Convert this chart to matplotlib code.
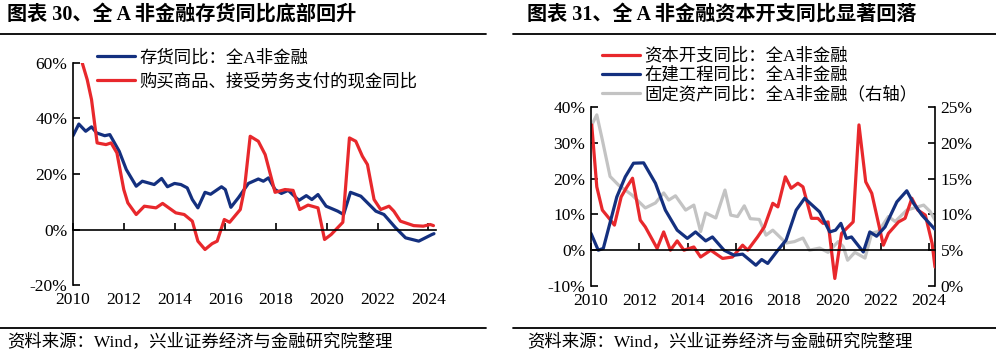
import matplotlib.pyplot as plt
from matplotlib.lines import Line2D

# ---- data ----
inv_x = [2010.0, 2010.23, 2010.5, 2010.73, 2010.93, 2011.25, 2011.45, 2011.82, 2012.1, 2012.49,
         2012.73, 2013.2, 2013.49, 2013.72, 2014.0, 2014.25, 2014.5, 2014.7, 2014.92, 2015.2,
         2015.42, 2015.85, 2016.0, 2016.22, 2016.52, 2016.91, 2017.3, 2017.5, 2017.7, 2017.96,
         2018.21, 2018.48, 2018.9, 2019.19, 2019.41, 2019.65, 2019.97, 2020.43, 2020.66, 2020.93,
         2021.34, 2021.93, 2022.25, 2022.71, 2023.1, 2023.62, 2024.14, 2024.22]
inv_y = [33.8, 38, 35.4, 37, 34.8, 33.8, 34.2, 28.2, 21.6, 15.6,
         17.4, 16.2, 18.4, 15.4, 16.6, 16.2, 15, 10.8, 7.8, 13.4,
         12.7, 15.4, 14.4, 8.0, 11.5, 16.6, 18.2, 17.4, 18.6, 14.4,
         13, 14.1, 10.5, 12.2, 10.8, 12.6, 8.4, 6.6, 5.4, 13.4,
         12, 6.6, 5.4, 0.6, -3.0, -4.2, -1.8, -1.5]

cash_x = [2010.3, 2010.56, 2010.73, 2010.95, 2011.3, 2011.5, 2011.73, 2012.0, 2012.16, 2012.49,
          2012.81, 2013.27, 2013.53, 2014.05, 2014.38, 2014.7, 2014.92, 2015.2, 2015.48, 2015.68,
          2015.96, 2016.17, 2016.59, 2016.75, 2016.98, 2017.3, 2017.57, 2017.76, 2017.96, 2018.35,
          2018.67, 2018.93, 2019.26, 2019.65, 2019.91, 2020.17, 2020.63, 2020.89, 2021.14, 2021.4,
          2021.6, 2021.86, 2022.12, 2022.45, 2022.64, 2022.9, 2023.42, 2023.8, 2024.07, 2024.2]
cash_y = [62, 54, 46.8, 31.2, 30.6, 31.2, 27.6, 14.4, 9.6, 5.4,
          8.4, 7.8, 9.4, 6.0, 5.4, 3.0, -4.2, -7.2, -5.1, -4.2,
          3.6, 2.6, 7.2, 14.4, 33.6, 31.8, 27, 20.4, 13.4, 14.4,
          14.1, 7.2, 8.8, 7.8, -3.6, -1.8, 2.6, 33, 31.8, 26.4,
          23.4, 10.8, 7.2, 8.4, 6.6, 3.0, 1.4, 1.2, 1.8, 1.4]

capex_x = [2010.03, 2010.24, 2010.47, 2010.75, 2010.97, 2011.25, 2011.49, 2011.72, 2012.04, 2012.25,
           2012.74, 2013.01, 2013.29, 2013.57, 2013.85, 2014.26, 2014.54, 2014.96, 2015.45, 2015.86,
           2016.28, 2016.49, 2016.9, 2017.18, 2017.53, 2017.74, 2018.05, 2018.29, 2018.57, 2018.78,
           2019.13, 2019.4, 2019.61, 2019.82, 2020.1, 2020.38, 2020.65, 2020.86, 2021.1, 2021.38,
           2021.63, 2022.11, 2022.32, 2022.74, 2023.01, 2023.29, 2023.54, 2023.85, 2024.13, 2024.25]
capex_y = [35, 17.7, 11.2, 8.9, 7, 14.9, 17.7, 20.1, 8.4, 6.5,
           0.5, 5.1, 0, 2.6, 0, 0.9, -1.9, 0, -2.3, -1.9,
           1.4, 0, 3.7, 6.5, 13.1, 12.1, 20.5, 17.3, 18.7, 17.7,
           8.9, 8.9, 7.5, 7.9, -7.9, 4.7, 6.5, 7.9, 35, 19.1,
           15.9, 1.4, 4.7, 7.9, 8.9, 14.5, 11.2, 9.8, 1.9, -4.7]

cip_x = [2010.0, 2010.3, 2010.51, 2011.07, 2011.42, 2011.76, 2012.18, 2012.67, 2013.08, 2013.57,
         2013.99, 2014.33, 2014.75, 2015.03, 2015.51, 2015.93, 2016.28, 2016.83, 2017.07, 2017.32,
         2017.74, 2018.08, 2018.5, 2018.85, 2019.47, 2019.89, 2020.13, 2020.35, 2020.58, 2020.79,
         2021.28, 2021.55, 2021.83, 2022.18, 2022.67, 2023.08, 2023.36, 2023.71, 2024.25]
cip_y = [4.7, 0, 0.5, 14.9, 20.5, 24.3, 24.4, 18.7, 11.2, 5.6,
         3.3, 5.1, 2.6, 3.7, 0, -1.4, -1.1, -4.2, -2.6, -3.7,
         0, 2.8, 11.2, 14.5, 10.7, 5.1, 5.6, 7.5, 3.3, 3.7,
         -0.5, 5.1, 3.9, 6.5, 13.5, 16.6, 13.1, 9.8, 5.8]

fa_x = [2010.03, 2010.24, 2010.47, 2010.79, 2011.14, 2011.7, 2012.25, 2012.67, 2013.01, 2013.22,
        2013.5, 2013.92, 2014.26, 2014.54, 2014.75, 2015.17, 2015.55, 2015.79, 2016.07, 2016.35,
        2016.6, 2016.97, 2017.25, 2017.53, 2018.08, 2018.43, 2018.78, 2019.05, 2019.47, 2019.82,
        2020.24, 2020.45, 2020.63, 2020.93, 2021.35, 2021.63, 2021.9, 2022.32, 2022.6, 2023.08,
        2023.78, 2024.05, 2024.25]
fa_y = [22.5, 23.9, 20.4, 15.3, 14.1, 12.7, 10.9, 11.6, 13, 12,
        12.6, 10.6, 11.3, 7.6, 10.2, 9.5, 13.4, 9.9, 9.7, 11.2,
        9.4, 9.3, 7.1, 7.8, 6, 6.2, 6.7, 5, 5.3, 4.7,
        6.2, 5.5, 3.6, 4.7, 3.9, 7.4, 7.6, 9.7, 9, 10.6,
        11.3, 10.4, 9.2]

years = [2010, 2012, 2014, 2016, 2018, 2020, 2022, 2024]

BLUE = '#14307f'
RED = '#e8282c'
GRAY = '#c3c3c3'
SERIF = ['Liberation Serif', 'Noto Sans CJK SC']
plt.rcParams['font.family'] = SERIF
plt.rcParams['axes.unicode_minus'] = False
plt.rcParams['lines.solid_joinstyle'] = 'round'
plt.rcParams['lines.solid_capstyle'] = 'round'

fig = plt.figure(figsize=(9.96, 3.57), dpi=100)


def pct(v, pos=None):
    return '%d%%' % v


def style_axes(ax, xmax):
    ax.set_xlim(2010, xmax)
    ax.spines['top'].set_visible(False)
    ax.spines['right'].set_visible(False)
    ax.spines['bottom'].set_position(('data', 0))
    ax.spines['bottom'].set_linewidth(1.2)
    ax.spines['left'].set_linewidth(1.2)
    ax.set_xticks(years)
    ax.tick_params(axis='x', direction='in', length=5, width=1.2, labelbottom=False)
    ax.tick_params(axis='y', direction='in', length=5, width=1.2, labelsize=12.5, pad=4)
    ax.yaxis.set_major_formatter(pct)
    sec = ax.secondary_xaxis('bottom')
    sec.set_xticks(years)
    sec.tick_params(length=0, labelsize=12.5, pad=5)
    sec.spines['bottom'].set_visible(False)
    ax.patch.set_visible(False)


# ---- left chart ----
ax1 = fig.add_axes([73 / 996, 1 - 285 / 357, 363 / 996, 222 / 357])
ax1.plot(inv_x, inv_y, color=BLUE, lw=2.3, label='存货同比：全A非金融')
ax1.plot(cash_x, cash_y, color=RED, lw=2.3, label='购买商品、接受劳务支付的现金同比')
ax1.set_ylim(-20, 60)
ax1.set_yticks([-20, 0, 20, 40, 60])
style_axes(ax1, 2024.3)
ax1.legend(loc='upper left', bbox_to_anchor=(97 / 996, 1 - 50 / 357), bbox_transform=fig.transFigure,
           frameon=False, fontsize=12.5, handlelength=2.2, handletextpad=0.25,
           labelspacing=0.4, borderpad=0, borderaxespad=0)

# ---- right chart ----
ax2 = fig.add_axes([591 / 996, 1 - 286 / 357, 344 / 996, 179 / 357])
l1, = ax2.plot(capex_x, capex_y, color=RED, lw=2.3)
l2, = ax2.plot(cip_x, cip_y, color=BLUE, lw=2.3)
ax2.set_ylim(-10, 40)
ax2.set_yticks([-10, 0, 10, 20, 30, 40])
style_axes(ax2, 2024.25)
ax3 = ax2.twinx()
l3, = ax3.plot(fa_x, fa_y, color=GRAY, lw=2.3)
ax3.set_ylim(0, 25)
ax3.set_yticks([0, 5, 10, 15, 20, 25])
ax3.yaxis.set_major_formatter(pct)
ax3.tick_params(axis='y', direction='in', length=5, width=1.2, labelsize=12.5, pad=4)
for s in ['top', 'left', 'bottom']:
    ax3.spines[s].set_visible(False)
ax3.spines['right'].set_linewidth(1.2)
ax2.set_zorder(ax3.get_zorder() + 1)
ax2.legend([l1, l2, l3], ['资本开支同比：全A非金融', '在建工程同比：全A非金融', '固定资产同比：全A非金融（右轴）'],
           loc='upper left', bbox_to_anchor=(602 / 996, 1 - 48 / 357), bbox_transform=fig.transFigure,
           frameon=False, fontsize=12.5, handlelength=2.2, handletextpad=0.25,
           labelspacing=0.15, borderpad=0, borderaxespad=0)

# ---- titles, rules and source ----
fig.text(7 / 996, 1 - 15 / 357, '图表 30、全 A 非金融存货同比底部回升', fontsize=14.5, fontweight='bold',
         va='center', ha='left', family=SERIF)
fig.text(527 / 996, 1 - 15 / 357, '图表 31、全 A 非金融资本开支同比显著回落', fontsize=14.5, fontweight='bold',
         va='center', ha='left', family=SERIF)
for x0, x1 in [(0, 486), (513, 996)]:
    for yy in [34, 328]:
        fig.add_artist(Line2D([x0 / 996, x1 / 996], [1 - yy / 357, 1 - yy / 357], color='black', lw=1.3))
fig.text(7 / 996, 1 - 342 / 357, '资料来源：Wind，兴业证券经济与金融研究院整理', fontsize=12.5, va='center', ha='left')
fig.text(527 / 996, 1 - 342 / 357, '资料来源：Wind，兴业证券经济与金融研究院整理', fontsize=12.5, va='center', ha='left')

fig.savefig('out.png', dpi=100)
